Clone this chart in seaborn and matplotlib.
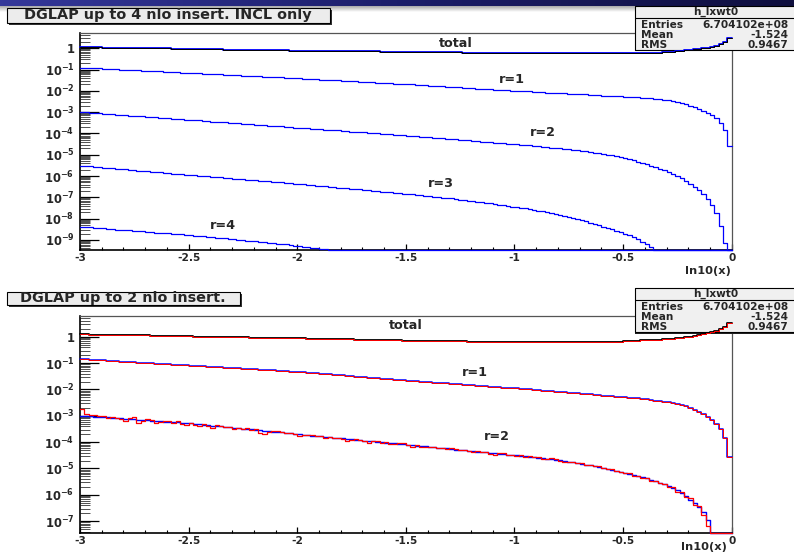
import numpy as np
import matplotlib
matplotlib.use("Agg")
import matplotlib.pyplot as plt
import seaborn as sns
from matplotlib.patches import Rectangle
from matplotlib.colors import LinearSegmentedColormap
from matplotlib.ticker import FixedLocator, FuncFormatter, NullFormatter, MultipleLocator

# binning of the histograms (ln10(x) from -3 to 0)
x_min, x_max, n_bins = -3.0, 0.0, 150
UNDER = -99.0  # bin content below the plotted range

# log10 of bin contents
top_total = [
    0.05, 0.05, 0.04, 0.04, 0.04, 0.03, 0.03, 0.03, 0.02, 0.02,
    0.02, 0.01, 0.01, 0.01, 0.00, 0.00, 0.00, 0.00, -0.01, -0.01,
    -0.01, -0.02, -0.02, -0.02, -0.03, -0.03, -0.03, -0.04, -0.04, -0.04,
    -0.05, -0.05, -0.05, -0.06, -0.06, -0.06, -0.07, -0.07, -0.07, -0.08,
    -0.08, -0.08, -0.09, -0.09, -0.09, -0.10, -0.10, -0.10, -0.11, -0.11,
    -0.11, -0.11, -0.12, -0.12, -0.12, -0.12, -0.12, -0.13, -0.13, -0.13,
    -0.13, -0.14, -0.14, -0.14, -0.14, -0.15, -0.15, -0.15, -0.15, -0.16,
    -0.16, -0.16, -0.16, -0.17, -0.17, -0.17, -0.17, -0.17, -0.18, -0.18,
    -0.18, -0.18, -0.18, -0.19, -0.19, -0.19, -0.19, -0.19, -0.20, -0.20,
    -0.20, -0.20, -0.20, -0.21, -0.21, -0.21, -0.21, -0.21, -0.22, -0.22,
    -0.22, -0.22, -0.22, -0.22, -0.22, -0.22, -0.23, -0.23, -0.23, -0.23,
    -0.23, -0.23, -0.23, -0.23, -0.23, -0.23, -0.23, -0.24, -0.24, -0.24,
    -0.24, -0.24, -0.24, -0.24, -0.24, -0.24, -0.24, -0.24, -0.24, -0.23,
    -0.23, -0.22, -0.21, -0.20, -0.19, -0.18, -0.16, -0.14, -0.12, -0.10,
    -0.08, -0.05, -0.02, 0.00, 0.03, 0.07, 0.12, 0.18, 0.29, 0.47,
]
top_r1 = [
    -0.91, -0.92, -0.93, -0.94, -0.95, -0.96, -0.97, -0.98, -0.99, -1.00,
    -1.01, -1.02, -1.03, -1.04, -1.05, -1.06, -1.07, -1.08, -1.09, -1.10,
    -1.11, -1.12, -1.13, -1.14, -1.15, -1.16, -1.17, -1.18, -1.19, -1.20,
    -1.21, -1.22, -1.23, -1.24, -1.25, -1.26, -1.27, -1.28, -1.29, -1.30,
    -1.31, -1.32, -1.33, -1.34, -1.35, -1.36, -1.37, -1.38, -1.39, -1.40,
    -1.41, -1.42, -1.43, -1.44, -1.46, -1.47, -1.48, -1.49, -1.50, -1.51,
    -1.52, -1.53, -1.55, -1.56, -1.57, -1.58, -1.59, -1.60, -1.61, -1.62,
    -1.63, -1.65, -1.66, -1.67, -1.68, -1.69, -1.70, -1.72, -1.73, -1.74,
    -1.75, -1.76, -1.78, -1.79, -1.80, -1.81, -1.83, -1.84, -1.85, -1.86,
    -1.88, -1.89, -1.90, -1.91, -1.93, -1.94, -1.95, -1.96, -1.98, -1.99,
    -2.00, -2.01, -2.02, -2.03, -2.04, -2.05, -2.06, -2.08, -2.09, -2.10,
    -2.11, -2.12, -2.13, -2.14, -2.15, -2.16, -2.17, -2.18, -2.19, -2.20,
    -2.22, -2.23, -2.24, -2.25, -2.26, -2.27, -2.28, -2.29, -2.31, -2.32,
    -2.34, -2.35, -2.37, -2.39, -2.41, -2.43, -2.46, -2.50, -2.55, -2.62,
    -2.69, -2.76, -2.84, -2.93, -3.02, -3.13, -3.28, -3.50, -3.84, -4.59,
]
top_r2 = [
    -3.00, -3.01, -3.03, -3.04, -3.06, -3.07, -3.09, -3.10, -3.12, -3.13,
    -3.15, -3.16, -3.18, -3.19, -3.20, -3.22, -3.23, -3.25, -3.26, -3.28,
    -3.29, -3.31, -3.32, -3.34, -3.35, -3.37, -3.38, -3.39, -3.41, -3.42,
    -3.44, -3.45, -3.47, -3.48, -3.50, -3.51, -3.53, -3.54, -3.55, -3.57,
    -3.58, -3.60, -3.61, -3.63, -3.64, -3.66, -3.67, -3.69, -3.70, -3.72,
    -3.73, -3.74, -3.76, -3.77, -3.79, -3.80, -3.82, -3.83, -3.85, -3.86,
    -3.88, -3.89, -3.91, -3.92, -3.93, -3.95, -3.96, -3.98, -3.99, -4.01,
    -4.02, -4.04, -4.05, -4.07, -4.08, -4.10, -4.12, -4.13, -4.15, -4.17,
    -4.18, -4.20, -4.22, -4.23, -4.25, -4.26, -4.28, -4.30, -4.31, -4.33,
    -4.35, -4.36, -4.38, -4.40, -4.41, -4.43, -4.45, -4.46, -4.48, -4.50,
    -4.51, -4.53, -4.54, -4.56, -4.58, -4.60, -4.62, -4.64, -4.66, -4.68,
    -4.70, -4.72, -4.74, -4.77, -4.79, -4.82, -4.84, -4.87, -4.90, -4.93,
    -4.96, -4.99, -5.03, -5.07, -5.11, -5.16, -5.21, -5.26, -5.32, -5.38,
    -5.44, -5.51, -5.58, -5.65, -5.73, -5.81, -5.90, -5.99, -6.10, -6.22,
    -6.35, -6.50, -6.66, -6.85, -7.07, -7.35, -7.75, -8.35, -9.15, UNDER,
]
top_r3 = [
    -5.52, -5.54, -5.55, -5.57, -5.59, -5.61, -5.62, -5.64, -5.66, -5.67,
    -5.69, -5.71, -5.72, -5.74, -5.76, -5.78, -5.79, -5.81, -5.83, -5.84,
    -5.86, -5.88, -5.89, -5.91, -5.93, -5.95, -5.96, -5.98, -6.00, -6.01,
    -6.03, -6.05, -6.06, -6.08, -6.10, -6.12, -6.13, -6.15, -6.17, -6.18,
    -6.20, -6.22, -6.23, -6.25, -6.27, -6.29, -6.30, -6.32, -6.34, -6.35,
    -6.37, -6.39, -6.41, -6.43, -6.45, -6.46, -6.48, -6.50, -6.52, -6.54,
    -6.56, -6.58, -6.60, -6.61, -6.63, -6.65, -6.67, -6.69, -6.71, -6.73,
    -6.75, -6.76, -6.78, -6.80, -6.82, -6.84, -6.86, -6.88, -6.90, -6.92,
    -6.94, -6.96, -6.98, -7.01, -7.03, -7.05, -7.08, -7.10, -7.13, -7.15,
    -7.18, -7.20, -7.23, -7.26, -7.28, -7.31, -7.34, -7.37, -7.40, -7.43,
    -7.46, -7.49, -7.52, -7.56, -7.59, -7.63, -7.66, -7.70, -7.74, -7.78,
    -7.82, -7.86, -7.91, -7.96, -8.01, -8.07, -8.12, -8.18, -8.24, -8.30,
    -8.37, -8.43, -8.50, -8.56, -8.63, -8.70, -8.78, -8.87, -8.97, -9.08,
    -9.20, -9.33,
] + [UNDER] * 18
top_r4 = [
    -8.38, -8.40, -8.41, -8.43, -8.44, -8.46, -8.47, -8.49, -8.51, -8.52,
    -8.54, -8.55, -8.57, -8.58, -8.60, -8.62, -8.63, -8.65, -8.66, -8.68,
    -8.69, -8.71, -8.72, -8.74, -8.76, -8.77, -8.79, -8.81, -8.83, -8.85,
    -8.87, -8.89, -8.91, -8.93, -8.95, -8.97, -8.99, -9.01, -9.03, -9.05,
    -9.07, -9.09, -9.11, -9.13, -9.15, -9.17, -9.19, -9.21, -9.24, -9.26,
    -9.28, -9.31, -9.33, -9.36, -9.38, -9.41, -9.44,
] + [UNDER] * 93

bot_total = [
    0.09, 0.09, 0.08, 0.08, 0.08, 0.07, 0.07, 0.07, 0.07, 0.06,
    0.06, 0.06, 0.05, 0.05, 0.05, 0.05, 0.04, 0.04, 0.04, 0.03,
    0.03, 0.03, 0.03, 0.02, 0.02, 0.02, 0.01, 0.01, 0.01, 0.00,
    0.00, 0.00, 0.00, -0.01, -0.01, -0.01, -0.02, -0.02, -0.02, -0.03,
    -0.03, -0.03, -0.03, -0.04, -0.04, -0.04, -0.05, -0.05, -0.05, -0.06,
    -0.06, -0.06, -0.07, -0.07, -0.07, -0.08, -0.08, -0.09, -0.09, -0.09,
    -0.10, -0.10, -0.10, -0.11, -0.11, -0.11, -0.12, -0.12, -0.13, -0.13,
    -0.13, -0.14, -0.14, -0.14, -0.15, -0.15, -0.15, -0.15, -0.15, -0.16,
    -0.16, -0.16, -0.16, -0.16, -0.17, -0.17, -0.17, -0.17, -0.17, -0.18,
    -0.18, -0.18, -0.18, -0.18, -0.18, -0.18, -0.18, -0.18, -0.18, -0.18,
    -0.18, -0.18, -0.18, -0.18, -0.18, -0.19, -0.19, -0.19, -0.19, -0.19,
    -0.19, -0.19, -0.19, -0.19, -0.19, -0.19, -0.19, -0.19, -0.19, -0.19,
    -0.19, -0.19, -0.19, -0.18, -0.18, -0.17, -0.16, -0.15, -0.15, -0.14,
    -0.13, -0.13, -0.12, -0.11, -0.10, -0.09, -0.08, -0.06, -0.04, -0.02,
    0.00, 0.03, 0.06, 0.10, 0.14, 0.18, 0.23, 0.29, 0.38, 0.51,
]
bot_r1 = [
    -0.85, -0.86, -0.87, -0.88, -0.89, -0.90, -0.91, -0.92, -0.93, -0.94,
    -0.95, -0.96, -0.97, -0.98, -0.99, -1.00, -1.01, -1.02, -1.03, -1.04,
    -1.05, -1.06, -1.07, -1.08, -1.09, -1.10, -1.10, -1.11, -1.12, -1.13,
    -1.14, -1.15, -1.16, -1.17, -1.18, -1.19, -1.20, -1.21, -1.22, -1.23,
    -1.24, -1.25, -1.26, -1.27, -1.28, -1.29, -1.30, -1.31, -1.32, -1.33,
    -1.34, -1.35, -1.36, -1.38, -1.39, -1.41, -1.42, -1.43, -1.45, -1.46,
    -1.47, -1.49, -1.50, -1.51, -1.53, -1.54, -1.56, -1.57, -1.58, -1.60,
    -1.61, -1.62, -1.64, -1.65, -1.66, -1.67, -1.68, -1.69, -1.70, -1.72,
    -1.73, -1.74, -1.75, -1.76, -1.77, -1.79, -1.80, -1.81, -1.82, -1.83,
    -1.84, -1.86, -1.87, -1.88, -1.89, -1.90, -1.91, -1.93, -1.94, -1.95,
    -1.96, -1.97, -1.99, -2.00, -2.01, -2.03, -2.04, -2.05, -2.07, -2.08,
    -2.10, -2.11, -2.12, -2.14, -2.15, -2.16, -2.18, -2.19, -2.20, -2.22,
    -2.23, -2.24, -2.26, -2.27, -2.28, -2.30, -2.31, -2.33, -2.34, -2.36,
    -2.38, -2.40, -2.42, -2.44, -2.46, -2.49, -2.52, -2.55, -2.59, -2.64,
    -2.70, -2.77, -2.85, -2.94, -3.04, -3.15, -3.30, -3.50, -3.86, -4.56,
]
bot_r2_blue = [
    -2.99, -3.00, -3.01, -3.03, -3.04, -3.05, -3.06, -3.07, -3.09, -3.10,
    -3.11, -3.12, -3.13, -3.15, -3.16, -3.17, -3.18, -3.19, -3.21, -3.22,
    -3.23, -3.24, -3.25, -3.27, -3.28, -3.29, -3.31, -3.32, -3.34, -3.36,
    -3.37, -3.39, -3.40, -3.42, -3.44, -3.45, -3.47, -3.49, -3.50, -3.52,
    -3.53, -3.55, -3.57, -3.58, -3.60, -3.62, -3.63, -3.65, -3.66, -3.68,
    -3.70, -3.72, -3.73, -3.75, -3.76, -3.78, -3.80, -3.81, -3.83, -3.84,
    -3.86, -3.88, -3.89, -3.91, -3.92, -3.94, -3.96, -3.97, -3.99, -4.00,
    -4.02, -4.04, -4.05, -4.07, -4.08, -4.10, -4.12, -4.13, -4.15, -4.16,
    -4.18, -4.20, -4.21, -4.23, -4.24, -4.26, -4.28, -4.29, -4.31, -4.32,
    -4.34, -4.36, -4.37, -4.39, -4.40, -4.42, -4.44, -4.45, -4.47, -4.48,
    -4.50, -4.52, -4.54, -4.55, -4.57, -4.59, -4.61, -4.63, -4.65, -4.67,
    -4.69, -4.72, -4.74, -4.77, -4.79, -4.82, -4.85, -4.88, -4.91, -4.94,
    -4.97, -5.01, -5.05, -5.09, -5.13, -5.17, -5.21, -5.25, -5.29, -5.33,
    -5.38, -5.43, -5.48, -5.54, -5.60, -5.67, -5.74, -5.83, -5.93, -6.05,
    -6.18, -6.32, -6.48, -6.66, -6.95,
] + [UNDER] * 5
bot_r2_red = [
    -2.74, -2.94, -2.98, -2.98, -3.00, -2.99, -3.08, -3.04, -3.07, -3.14,
    -3.21, -3.10, -3.06, -3.27, -3.19, -3.13, -3.17, -3.29, -3.25, -3.20,
    -3.20, -3.26, -3.20, -3.30, -3.34, -3.27, -3.34, -3.37, -3.33, -3.38,
    -3.45, -3.36, -3.39, -3.44, -3.42, -3.49, -3.45, -3.50, -3.47, -3.54,
    -3.51, -3.64, -3.69, -3.61, -3.58, -3.57, -3.62, -3.67, -3.65, -3.71,
    -3.78, -3.74, -3.72, -3.72, -3.77, -3.76, -3.83, -3.80, -3.85, -3.83,
    -3.90, -3.97, -3.92, -3.89, -3.91, -3.96, -4.02, -3.96, -3.97, -4.04,
    -4.00, -4.07, -4.07, -4.04, -4.02, -4.11, -4.17, -4.11, -4.17, -4.20,
    -4.17, -4.18, -4.23, -4.22, -4.27, -4.24, -4.25, -4.30, -4.29, -4.34,
    -4.37, -4.35, -4.39, -4.37, -4.45, -4.48, -4.43, -4.42, -4.49, -4.47,
    -4.51, -4.50, -4.56, -4.54, -4.58, -4.57, -4.64, -4.64, -4.59, -4.63,
    -4.71, -4.77, -4.75, -4.75, -4.81, -4.81, -4.88, -4.86, -4.92, -4.92,
    -4.99, -5.02, -5.03, -5.11, -5.12, -5.19, -5.19, -5.28, -5.27, -5.35,
    -5.35, -5.47, -5.46, -5.57, -5.58, -5.71, -5.71, -5.89, -5.89, -6.10,
    -6.12, -6.40, -6.43, -6.78, -7.20,
] + [UNDER] * 5

titles = ["DGLAP up to 4 nlo insert. INCL only", "DGLAP up to 2 nlo insert."]
stat_name = "h_lxwt0"
stat_rows = [("Entries", "6.704102e+08"), ("Mean", "-1.524"), ("RMS", "0.9467")]
top_labels = [("total", -1.27, 0.235), ("r=1", -1.01, -1.49), ("r=2", -0.87, -3.96),
              ("r=3", -1.34, -6.37), ("r=4", -2.34, -8.30)]
bot_labels = [("total", -1.50, 0.41), ("r=1", -1.18, -1.37), ("r=2", -1.08, -3.80)]

edges = np.linspace(x_min, x_max, n_bins + 1)

sns.set_theme(style="white")
plt.rcParams["font.family"] = ["DejaVu Sans"]
plt.rcParams["font.weight"] = "bold"
plt.rcParams["mathtext.fontset"] = "dejavusans"
plt.rcParams["axes.unicode_minus"] = False

W, H = 794, 555
fig = plt.figure(figsize=(W / 100, H / 100), dpi=100, facecolor="white")


def fx(px):
    return px / W


def fy(py):
    return 1 - py / H


def draw_hist(ax, logvals, color, lw, floor):
    assert len(logvals) == n_bins
    y = np.clip(np.power(10.0, np.array(logvals)), floor, None)
    y = np.append(y, y[-1])
    sns.lineplot(x=edges, y=y, ax=ax, color=color, linewidth=lw, drawstyle="steps-post",
                 estimator=None, sort=False, clip_on=False, zorder=3)


def decade_label(v, pos):
    e = int(round(np.log10(v)))
    if e == 0:
        return "1"
    return r"$\mathbf{10^{%d}}$" % e


def style_axes(ax, lmin, lmax, xlab_x, xlab_y):
    ax.set_xlim(x_min, x_max)
    ax.set_yscale("log")
    ax.set_ylim(10 ** lmin, 10 ** lmax)
    decades = np.arange(int(np.ceil(lmin)), int(np.floor(lmax)) + 1)
    minors = [m * 10.0 ** d for d in range(int(np.floor(lmin)), int(np.ceil(lmax)))
              for m in range(2, 10) if lmin <= np.log10(m) + d <= lmax]
    ax.xaxis.set_major_locator(MultipleLocator(0.5))
    ax.xaxis.set_minor_locator(MultipleLocator(0.1))
    ax.xaxis.set_major_formatter(FuncFormatter(lambda v, p: "0" if abs(v) < 1e-9 else f"{v:g}"))
    ax.yaxis.set_major_locator(FixedLocator(10.0 ** decades))
    ax.yaxis.set_minor_locator(FixedLocator(minors))
    ax.yaxis.set_major_formatter(FuncFormatter(decade_label))
    ax.yaxis.set_minor_formatter(NullFormatter())
    ax.tick_params(axis="x", which="major", direction="in", length=4.3, width=0.9,
                   labelsize=7.6, pad=2.5, bottom=True, top=False, color="black")
    ax.tick_params(axis="x", which="minor", direction="in", length=2.4, width=0.8,
                   bottom=True, top=False, color="black")
    ax.tick_params(axis="y", which="major", direction="in", length=14, width=0.9,
                   labelsize=8.3, pad=4, left=True, right=False, color="black")
    ax.tick_params(axis="y", which="minor", direction="in", length=7, width=0.6,
                   left=True, right=False, color="#333333")
    for side in ["left", "bottom"]:
        ax.spines[side].set_color("black")
        ax.spines[side].set_linewidth(1.2)
    for side in ["top", "right"]:
        ax.spines[side].set_color("#555555")
        ax.spines[side].set_linewidth(0.9)
    ax.set_xlabel("")
    ax.set_ylabel("")
    ax.text(xlab_x, xlab_y, "ln10(x)", transform=ax.transAxes, ha="right", va="center",
            fontsize=8.2, fontweight="bold")


def title_box(x0, y0, x1, y1, text):
    fig.add_artist(Rectangle((fx(x0 + 2), fy(y1 + 2)), fx(x1 - x0), fy(y0) - fy(y1),
                             transform=fig.transFigure, facecolor="#333333", edgecolor="none", zorder=5))
    fig.add_artist(Rectangle((fx(x0), fy(y1)), fx(x1 - x0), fy(y0) - fy(y1),
                             transform=fig.transFigure, facecolor="#ececec", edgecolor="black",
                             linewidth=0.8, zorder=6))
    fig.text(fx((x0 + x1) / 2 - 1), fy((y0 + y1) / 2), text, ha="center", va="center",
             fontsize=10.4, fontweight="bold", zorder=7)


def stats_box(ax, y0):
    tr = fig.transFigure
    x0, x1 = 635, 800
    y1 = y0 + 44
    ax.add_patch(Rectangle((fx(x0), fy(y1 + 1.5)), fx(x1 - x0), fy(y0) - fy(y1 + 1.5), transform=tr,
                           facecolor="#222222", edgecolor="none", clip_on=False, zorder=2.7))
    ax.add_patch(Rectangle((fx(x0), fy(y1)), fx(x1 - x0), fy(y0) - fy(y1), transform=tr,
                           facecolor="#f0f0f0", edgecolor="black", linewidth=0.8,
                           clip_on=False, zorder=2.8))
    ax.plot([fx(x0), fx(x1)], [fy(y0 + 11.5), fy(y0 + 11.5)], transform=tr, color="black",
            linewidth=0.8, clip_on=False, zorder=2.85)
    ax.text(fx(716), fy(y0 + 5.5), stat_name, transform=tr, ha="center", va="center",
            fontsize=7.6, fontweight="bold", zorder=2.9)
    for k, (name, val) in enumerate(stat_rows):
        yy = fy(y0 + 18.5 + 10.5 * k)
        ax.text(fx(641), yy, name, transform=tr, ha="left", va="center",
                fontsize=7.6, fontweight="bold", zorder=2.9)
        ax.text(fx(788.5), yy, val, transform=tr, ha="right", va="center",
                fontsize=7.6, fontweight="bold", zorder=2.9)


# slide header bar
hdr = fig.add_axes([0, fy(6), 1, 6 / H])
hdr.imshow(np.linspace(0, 1, 256)[None, :], aspect="auto",
           cmap=LinearSegmentedColormap.from_list("hdr", ["#34389a", "#1c1e6a", "#10103f"]))
hdr.set_axis_off()
shd = fig.add_axes([0, fy(12), 1, 6 / H])
shd.imshow(np.linspace(0, 1, 32)[:, None], aspect="auto",
           cmap=LinearSegmentedColormap.from_list("shd", ["#a8a8a8", "#ffffff"]))
shd.set_axis_off()

# top panel: up to 4 insertions
top_lmin, top_lmax = -9.47, 0.73
ax1 = fig.add_axes([fx(80), fy(250), fx(731.7 - 80), fy(32.7) - fy(250)])
style_axes(ax1, top_lmin, top_lmax, 0.999, -0.095)
floor1 = 10 ** top_lmin
draw_hist(ax1, top_total, "#0000ff", 1.3, floor1)
draw_hist(ax1, top_total, "black", 0.7, floor1)
for series in [top_r1, top_r2, top_r3, top_r4]:
    draw_hist(ax1, series, "#0000ff", 0.9, floor1)
for text, xv, lv in top_labels:
    ax1.text(xv, 10 ** lv, text, ha="center", va="center", fontsize=9.2, fontweight="bold", zorder=4)
stats_box(ax1, 6)

# bottom panel: up to 2 insertions
bot_lmin, bot_lmax = -7.45, 0.80
ax2 = fig.add_axes([fx(80), fy(533), fx(731.7 - 80), fy(315.7) - fy(533)])
style_axes(ax2, bot_lmin, bot_lmax, 0.992, -0.064)
floor2 = 10 ** bot_lmin
draw_hist(ax2, bot_total, "black", 1.3, floor2)
draw_hist(ax2, bot_total, "#ff0000", 0.7, floor2)
draw_hist(ax2, bot_r1, "#0000ff", 1.1, floor2)
draw_hist(ax2, bot_r1, "#ff0000", 0.7, floor2)
draw_hist(ax2, bot_r2_blue, "#0000ff", 1.0, floor2)
draw_hist(ax2, bot_r2_red, "#ff0000", 0.9, floor2)
for text, xv, lv in bot_labels:
    ax2.text(xv, 10 ** lv, text, ha="center", va="center", fontsize=9.2, fontweight="bold", zorder=4)
stats_box(ax2, 288)

title_box(6.7, 8.3, 330, 22.7, titles[0])
title_box(6.7, 291.7, 240, 305, titles[1])

fig.savefig("out.png", dpi=100, facecolor="white")
